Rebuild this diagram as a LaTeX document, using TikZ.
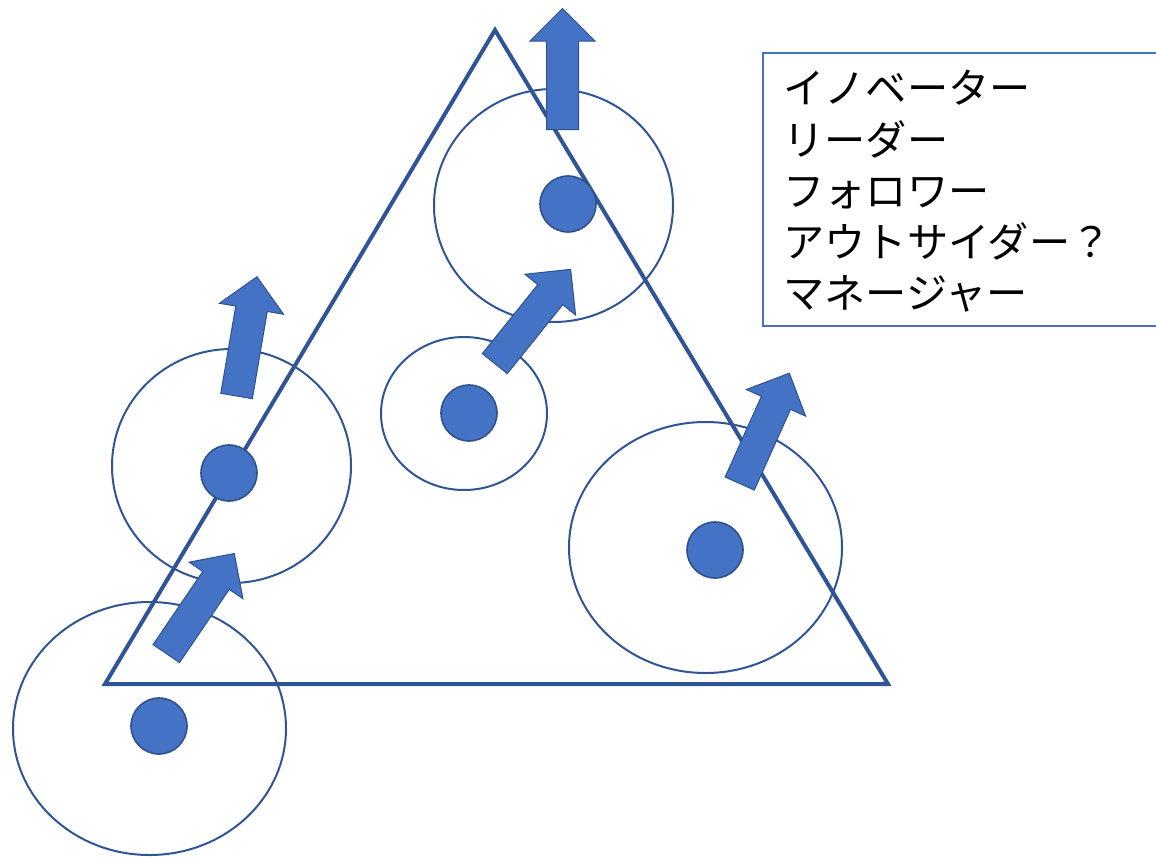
\documentclass[tikz,border=0pt]{standalone}
\usepackage{fontspec}
\newfontfamily\jpfont{Noto Sans CJK JP}
\usepackage{tikz}
\usetikzlibrary{shapes.geometric,shapes.arrows}

\definecolor{edgeblue}{HTML}{2F5597}
\definecolor{fillblue}{HTML}{4472C4}
\definecolor{lineblue}{HTML}{2F528F}

\begin{document}
\begin{tikzpicture}[
    x=0.5pt, y=-0.5pt,
    tri/.style={draw=edgeblue, line width=2pt},
    zone/.style={draw=edgeblue, ellipse, line width=1pt, inner sep=0pt},
    member/.style={draw=lineblue, circle, fill=fillblue, line width=0.8pt, minimum size=28pt, inner sep=0pt},
    move/.style={draw=lineblue, fill=fillblue, single arrow, line width=0.5pt, minimum height=60.5pt, inner sep=7.75pt, single arrow head extend=8.25pt, single arrow tip angle=90, anchor=tail},
    legend/.style={draw=fillblue, line width=0.8pt},
    roles/.style={align=left, inner sep=0pt, anchor=north west, font=\jpfont\fontsize{20.6pt}{25.6pt}\selectfont}
]
\useasboundingbox (0,0) rectangle (1156,857);

% Triangle
\coordinate (apex) at (495,30);
\coordinate (left) at (105,684);
\coordinate (right) at (888,684);
\draw[tri] (apex) -- (left) -- (right) -- cycle;

% Zones
\node[zone, minimum width=136.5pt, minimum height=126.5pt] (zone1) at (149.5,728.5) {};
\node[zone, minimum width=119.5pt, minimum height=117pt] (zone2) at (231.5,466) {};
\node[zone, minimum width=83pt, minimum height=76.5pt] (zone3) at (464,413.5) {};
\node[zone, minimum width=119.5pt, minimum height=116.5pt] (zone4) at (553.5,205.5) {};
\node[zone, minimum width=136.5pt, minimum height=125.5pt] (zone5) at (705.5,547.5) {};

% Members
\node[member] (member1) at (159,726) {};
\node[member] (member2) at (229,473) {};
\node[member] (member3) at (469,413) {};
\node[member] (member4) at (568,204) {};
\node[member] (member5) at (715,550) {};

% Moves
\node[move, rotate=55.8] (move1) at (166,654) {};
\node[move, rotate=80.3] (move2) at (236.5,396.5) {};
\node[move, rotate=51.2] (move3) at (494.5,364) {};
\node[move, rotate=90] (move4) at (562.5,130) {};
\node[move, rotate=65.8] (move5) at (739.5,484) {};

% Legend
\draw[legend] (763,53) rectangle (1180,326);
\node[roles] (rolelist) at (783,70) {イノベーター\\リーダー\\フォロワー\\アウトサイダー？\\マネージャー};

\end{tikzpicture}
\end{document}
